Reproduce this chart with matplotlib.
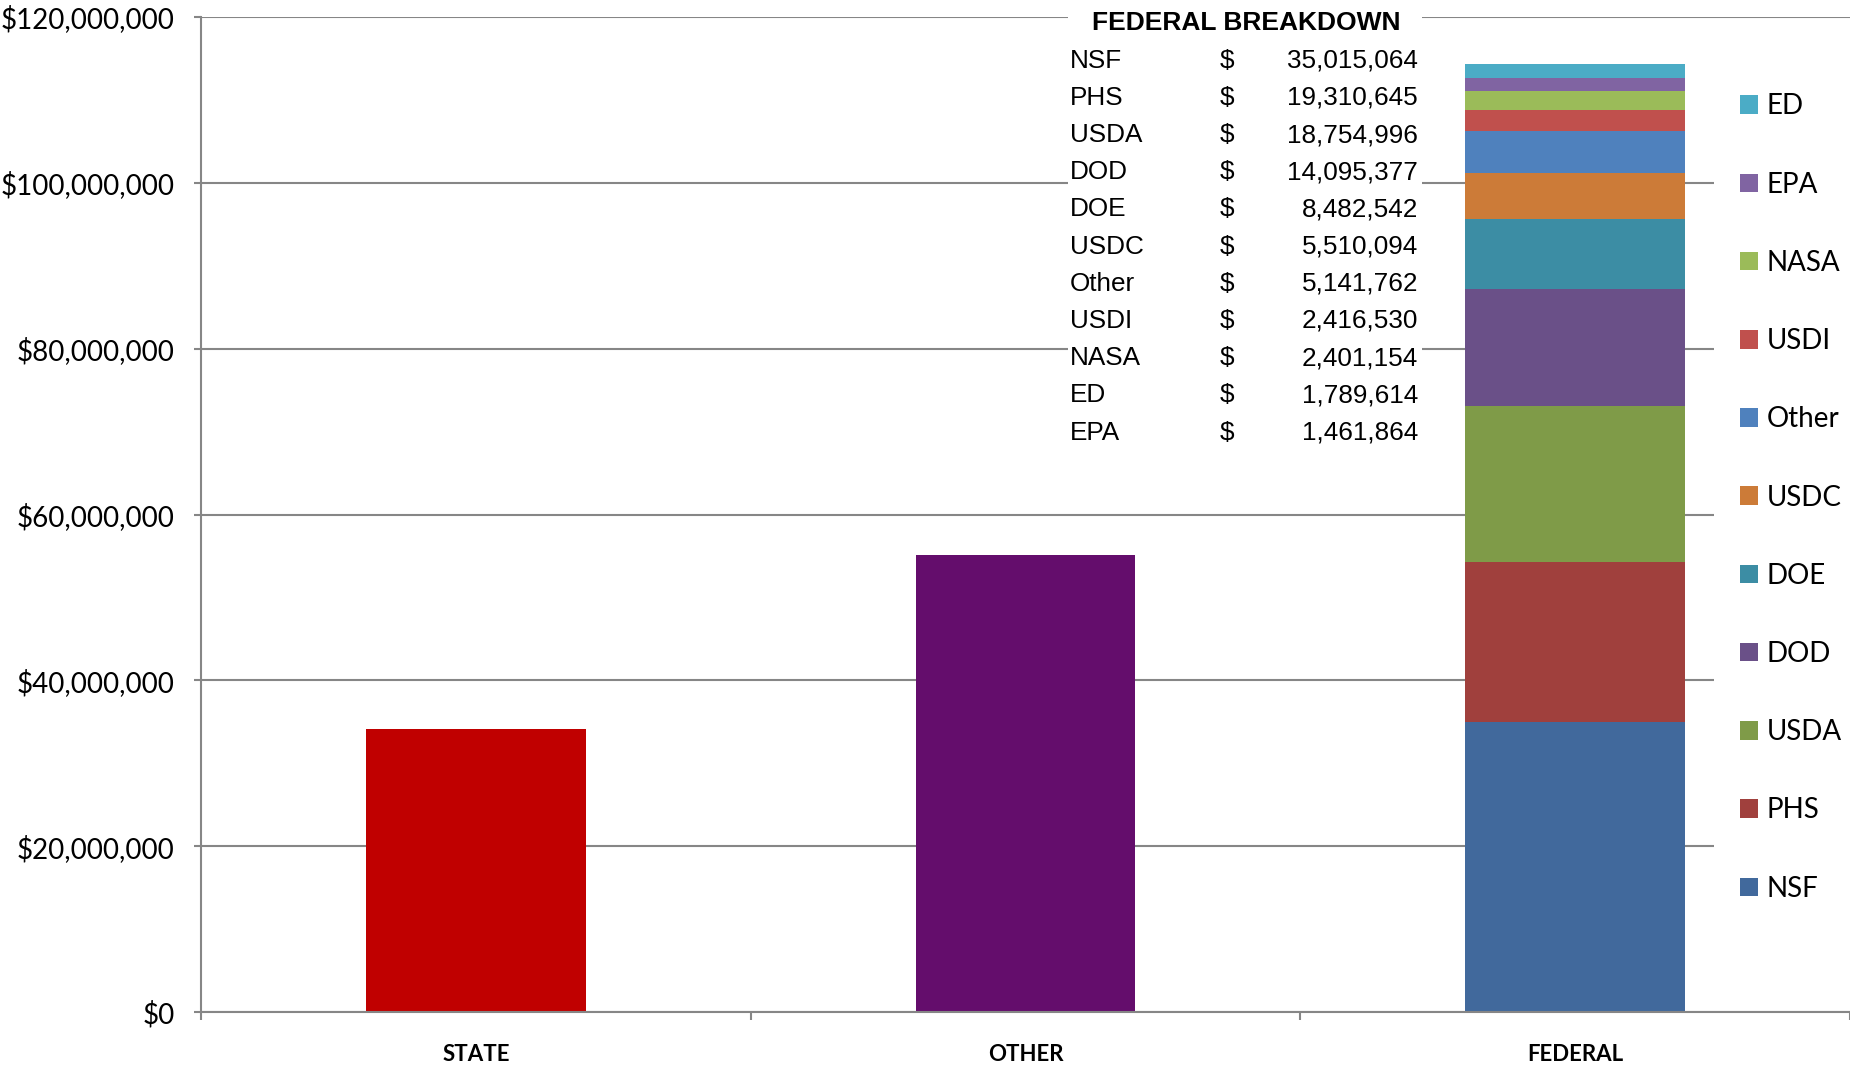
import matplotlib.pyplot as plt
import matplotlib.patches as mpatches
from matplotlib.ticker import FuncFormatter
import numpy as np

categories = ['STATE', 'OTHER', 'FEDERAL']
state_value = 34_100_000
other_value = 55_100_000

# federal breakdown table (as listed)
table_names = ['NSF', 'PHS', 'USDA', 'DOD', 'DOE', 'USDC', 'Other', 'USDI', 'NASA', 'ED', 'EPA']
table_values = [35015064, 19310645, 18754996, 14095377, 8482542, 5510094,
                5141762, 2416530, 2401154, 1789614, 1461864]

# stacking order, bottom to top
stack_names = ['NSF', 'PHS', 'USDA', 'DOD', 'DOE', 'USDC', 'Other', 'USDI', 'NASA', 'EPA', 'ED']
stack_colors = ['#41699C', '#A0403D', '#7F9B48', '#6A5088', '#3C8DA4', '#CC7B38',
                '#4F81BD', '#C0504D', '#9BBB59', '#8064A2', '#4BACC6']

W, H = 1850, 1067
fig = plt.figure(figsize=(W / 100, H / 100), dpi=100)
ax = fig.add_axes([201 / W, 1 - 1012 / H, 1 - 201 / W, (1012 - 17) / H])

grey = '#868686'
x = np.arange(len(categories))
bw = 0.4
ax.bar(x[0], state_value, width=bw, color='#C00000', zorder=2)
ax.bar(x[1], other_value, width=bw, color='#640D6C', zorder=2)
lookup = dict(zip(table_names, table_values))
bottom = 0
for name, col in zip(stack_names, stack_colors):
    v = lookup[name]
    ax.bar(x[2], v, width=bw, bottom=bottom, color=col, label=name, zorder=2)
    bottom += v

ax.set_xlim(-0.5, 2.5)
ax.set_ylim(0, 120_000_000)
ax.set_yticks(np.arange(0, 120_000_001, 20_000_000))
ax.yaxis.set_major_formatter(FuncFormatter(lambda v, p: '${:,.0f}'.format(v)))
ax.grid(axis='y', color=grey, lw=1.5, zorder=0)
ax.set_axisbelow(True)

ax.set_xticks([-0.5, 0.5, 1.5, 2.5])
ax.set_xticklabels([])
ax.set_xticks(x, minor=True)
ax.set_xticklabels(categories, minor=True, fontfamily='Lato', fontweight='bold', fontsize=16)
ax.tick_params(axis='x', which='major', length=6, width=1.5, color=grey)
ax.tick_params(axis='x', which='minor', length=0, pad=23)
ax.tick_params(axis='y', length=5, width=1.5, color=grey, pad=14, labelsize=20)
for lab in ax.get_yticklabels():
    lab.set_fontfamily('Lato')

for s in ['top', 'right']:
    ax.spines[s].set_visible(False)
for s in ['left', 'bottom']:
    ax.spines[s].set_color(grey)
    ax.spines[s].set_linewidth(1.5)

# white panel behind the breakdown table
fig.patches.append(mpatches.Rectangle((1068 / W, 1 - 452 / H), (1422 - 1068) / W, 452 / H,
                                      transform=fig.transFigure, facecolor='white',
                                      edgecolor='none', zorder=3))
fig.text(1246 / W, 1 - 22.5 / H, 'FEDERAL BREAKDOWN', ha='center', va='center',
         fontfamily='Liberation Sans', fontweight='bold', fontsize=19, zorder=4)
for i, (n, v) in enumerate(zip(table_names, table_values)):
    yy = 1 - (60.8 + 37.17 * i) / H
    fig.text(1070 / W, yy, n, ha='left', va='center', fontfamily='Liberation Sans',
             fontsize=18.8, zorder=4)
    fig.text(1227 / W, yy, '$', ha='center', va='center', fontfamily='Liberation Sans',
             fontsize=18.8, zorder=4)
    fig.text(1418 / W, yy, '{:,}'.format(v), ha='right', va='center',
             fontfamily='Liberation Sans', fontsize=18.8, zorder=4)

handles, labels = ax.get_legend_handles_labels()
leg = ax.legend(handles[::-1], labels[::-1], loc='center left',
                bbox_to_anchor=(1714 / W, 1 - 497.5 / H), bbox_transform=fig.transFigure,
                prop={'family': 'Lato', 'size': 20}, frameon=True, fancybox=False,
                edgecolor='none', facecolor='white', framealpha=1,
                handlelength=0.65, handleheight=0.65, handletextpad=0.3,
                labelspacing=1.88, borderpad=0.95, borderaxespad=0)
leg.set_zorder(5)

fig.savefig('out.png', dpi=100)
